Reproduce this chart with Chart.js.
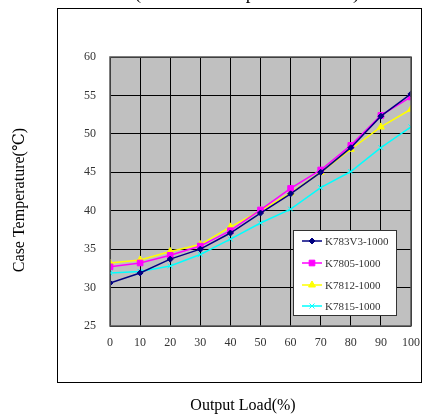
<!DOCTYPE html>
<html>
<head>
<meta charset="utf-8">
<script src="https://cdn.jsdelivr.net/npm/chart.js@4.4.0/dist/chart.umd.min.js"></script>
<style>
  html, body { margin: 0; padding: 0; background: #fff; }
  #wrap { width: 426px; height: 417px; position: relative; }
</style>
</head>
<body>
<div id="wrap"><canvas id="c" width="426" height="417"></canvas></div>
<script>
// Output load (%) on x, case temperature on y
const loads = [0, 10, 20, 30, 40, 50, 60, 70, 80, 90, 100];
const k783v3 = [30.6, 31.9, 33.7, 35.0, 37.1, 39.7, 42.2, 45.0, 48.2, 52.3, 55.2];
const k7805  = [32.7, 33.2, 34.2, 35.4, 37.4, 40.1, 42.9, 45.3, 48.5, 52.4, 54.8];
const k7812  = [33.2, 33.6, 34.7, 35.6, 37.9, 40.0, 42.3, 45.0, 48.0, 50.9, 53.2];
const k7815  = [31.9, 32.1, 32.8, 34.3, 36.3, 38.4, 40.2, 43.0, 45.1, 48.2, 50.9];
const seriesNames = ['K783V3-1000', 'K7805-1000', 'K7812-1000', 'K7815-1000'];

const serif = "'Liberation Serif', 'DejaVu Serif', serif";

function pts(vals) {
    return loads.map((x, i) => ({ x: x, y: vals[i] }));
}

// fond gris + cadre extérieur + titres
const decor = {
    id: 'decor',
    beforeDraw(chart) {
        const ctx = chart.ctx;
        const a = chart.chartArea;
        ctx.save();
        ctx.fillStyle = '#fff';
        ctx.fillRect(0, 0, chart.width, chart.height);
        ctx.strokeStyle = '#000';
        ctx.lineWidth = 1;
        ctx.strokeRect(57.5, 8.5, 364, 374);
        ctx.fillStyle = '#c0c0c0';
        ctx.fillRect(a.left, a.top, a.right - a.left, a.bottom - a.top);
        ctx.restore();
    },
    afterDraw(chart) {
        const ctx = chart.ctx;
        const a = chart.chartArea;
        ctx.save();
        ctx.strokeStyle = '#555';
        ctx.lineWidth = 1.5;
        ctx.strokeRect(a.left, a.top, a.right - a.left, a.bottom - a.top);

        ctx.fillStyle = '#000';
        ctx.textAlign = 'center';
        ctx.textBaseline = 'alphabetic';
        ctx.font = '19px ' + serif;
        ctx.fillText('(Ambient Temperature 25\u2103)', 247, -1);
        ctx.font = '16px ' + serif;
        ctx.fillText('Output Load(%)', 243, 410);
        ctx.translate(24, 200);
        ctx.rotate(-Math.PI / 2);
        ctx.fillText('Case Temperature(\u2103)', 0, 0);
        ctx.restore();

        // légende dans la zone du graphique
        ctx.save();
        ctx.fillStyle = '#fff';
        ctx.fillRect(293, 230, 103, 85);
        ctx.strokeStyle = '#333';
        ctx.lineWidth = 1;
        ctx.strokeRect(293.5, 230.5, 103, 85);
        const rows = [241, 263, 285, 306];
        chart.data.datasets.forEach((ds, i) => {
            const y = rows[i];
            ctx.strokeStyle = ds.borderColor;
            ctx.lineWidth = ds.borderWidth;
            ctx.beginPath();
            ctx.moveTo(302, y);
            ctx.lineTo(322, y);
            ctx.stroke();
            ctx.fillStyle = ds.pointBackgroundColor;
            ctx.strokeStyle = ds.borderColor;
            ctx.lineWidth = 1;
            Chart.helpers.drawPoint(ctx, {
                pointStyle: ds.pointStyle, radius: ds.pointRadius, rotation: 0, borderWidth: 1
            }, 312, y);
            ctx.fillStyle = '#333';
            ctx.font = '11px ' + serif;
            ctx.textAlign = 'left';
            ctx.textBaseline = 'middle';
            ctx.fillText(ds.label, 325, y + 1);
        });
        ctx.restore();
    }
};

function mkSet(name, vals, color, style, r) {
    return {
        label: name,
        data: pts(vals),
        borderColor: color,
        backgroundColor: color,
        pointBackgroundColor: color,
        pointBorderColor: color,
        pointStyle: style,
        pointRadius: r,
        pointBorderWidth: 1,
        borderWidth: 1.5,
        tension: 0,
        fill: false
    };
}

new Chart(document.getElementById('c').getContext('2d'), {
    type: 'line',
    data: {
        datasets: [
            mkSet(seriesNames[0], k783v3, '#000080', 'rectRot', 3),
            mkSet(seriesNames[1], k7805, '#ff00ff', 'rect', 4),
            mkSet(seriesNames[2], k7812, '#ffff00', 'triangle', 4),
            mkSet(seriesNames[3], k7815, '#00ffff', 'crossRot', 3.5)
        ]
    },
    options: {
        responsive: false,
        animation: false,
        devicePixelRatio: 1,
        layout: { padding: { left: 0, right: 15, top: 57, bottom: 61 } },
        plugins: { legend: { display: false }, tooltip: { enabled: false } },
        scales: {
            x: {
                type: 'linear',
                min: 0, max: 100,
                afterFit(scale) {
                    scale.height = 30;
                    scale.paddingLeft = 0;
                    scale.paddingRight = 0;
                },
                ticks: { stepSize: 10, padding: 10, color: '#333', font: { family: serif, size: 12 } },
                grid: { color: '#000', lineWidth: 1, drawTicks: false },
                border: { display: false }
            },
            y: {
                min: 25, max: 60,
                afterFit(scale) {
                    scale.width = 110;
                    scale.paddingTop = 0;
                    scale.paddingBottom = 0;
                },
                ticks: { stepSize: 5, padding: 14, color: '#333', font: { family: serif, size: 12 } },
                grid: { color: '#000', lineWidth: 1, drawTicks: false },
                border: { display: false }
            }
        }
    },
    plugins: [decor]
});
</script>
</body>
</html>
